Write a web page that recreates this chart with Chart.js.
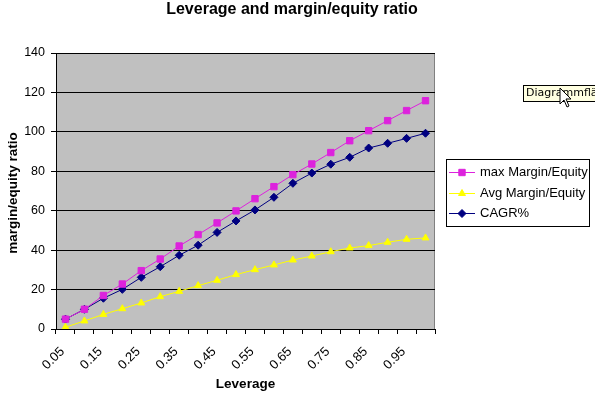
<!DOCTYPE html>
<html>
<head>
<meta charset="utf-8">
<script src="https://cdn.jsdelivr.net/npm/chart.js@4"></script>
<style>
    body { margin: 0; background: #fff; }
    #wrap { position: relative; width: 595px; height: 394px; }
</style>
</head>
<body>
<div id="wrap"><canvas id="chart1"></canvas></div>
<script>
const leverage = ["0.05", "0.10", "0.15", "0.20", "0.25", "0.30", "0.35", "0.40", "0.45", "0.50",
    "0.55", "0.60", "0.65", "0.70", "0.75", "0.80", "0.85", "0.90", "0.95", "1.00"]
const maxMarginEquity = [5, 10, 17, 22.8, 29.6, 35.5, 42.1, 47.9, 53.8, 59.9,
    66.1, 72.2, 78.3, 83.7, 89.5, 95.5, 100.6, 105.7, 110.8, 115.8]
const avgMarginEquity = [0.9, 4.1, 7.4, 10.3, 13.2, 16.4, 19.1, 22, 24.7, 27.6,
    30.1, 32.5, 35, 37, 39.2, 41.1, 42.3, 44, 45.5, 46.2]
const cagr = [5, 10, 15.6, 20.1, 26.2, 31.6, 37.4, 42.5, 49, 54.8,
    60.4, 66.8, 73.9, 79.1, 83.6, 87.1, 91.8, 94.2, 96.7, 99.3]
const yTicks = [0, 20, 40, 60, 80, 100, 120, 140]

const FONT = "Arial, 'Liberation Sans', sans-serif"

// excel-ish plot background, title, y title, legend, tooltip
const decor = {
    id: "decor",
    beforeDraw(chart) {
        const { ctx, chartArea: a } = chart
        ctx.save()
        ctx.fillStyle = "#c0c0c0"
        ctx.fillRect(a.left, a.top, a.right - a.left, a.bottom - a.top)
        ctx.strokeStyle = "#808080"
        ctx.lineWidth = 1
        ctx.strokeRect(a.left + 0.5, a.top + 0.5, a.right - a.left - 1, a.bottom - a.top)
        ctx.restore()
    },
    afterDraw(chart) {
        const ctx = chart.ctx
        ctx.save()
        ctx.fillStyle = "#000"
        ctx.font = "bold 16px " + FONT
        ctx.textAlign = "center"
        ctx.textBaseline = "middle"
        ctx.fillText("Leverage and margin/equity ratio", 292, 10)

        ctx.font = "bold 13.5px " + FONT
        ctx.translate(13, 193)
        ctx.rotate(-Math.PI / 2)
        ctx.fillText("margin/equity ratio", 0, 0)
        ctx.restore()

        // legend
        ctx.save()
        ctx.fillStyle = "#fff"
        ctx.fillRect(446, 159, 143, 67)
        ctx.strokeStyle = "#000"
        ctx.lineWidth = 1
        ctx.strokeRect(446.5, 159.5, 143, 67)
        ctx.font = "13px " + FONT
        ctx.textBaseline = "middle"
        chart.data.datasets.forEach((ds, i) => {
            const y = Math.round(172 + i * 20.5) + 0.5
            ctx.strokeStyle = ds.borderColor
            ctx.beginPath()
            ctx.moveTo(449, y)
            ctx.lineTo(475, y)
            ctx.stroke()
            ctx.fillStyle = ds.pointBackgroundColor
            Chart.helpers.drawPoint(ctx, {
                pointStyle: ds.pointStyle, radius: ds.pointRadius, borderWidth: 1
            }, 462, y)
            ctx.fillStyle = "#000"
            ctx.fillText(ds.label, 480, y)
        })
        ctx.restore()

        // tooltip left over from the screenshot
        ctx.save()
        ctx.fillStyle = "#ffffe1"
        ctx.fillRect(523, 85, 80, 16)
        ctx.strokeStyle = "#000"
        ctx.strokeRect(523.5, 85.5, 80, 16)
        ctx.fillStyle = "#000"
        ctx.font = "11px Tahoma, 'DejaVu Sans', sans-serif"
        ctx.textBaseline = "middle"
        ctx.fillText("Diagrammfläche", 526, 93.5)
        // cursor
        ctx.beginPath()
        ctx.moveTo(560, 88)
        ctx.lineTo(560, 104)
        ctx.lineTo(564, 100)
        ctx.lineTo(567, 107)
        ctx.lineTo(569, 106)
        ctx.lineTo(566, 99)
        ctx.lineTo(571, 99)
        ctx.closePath()
        ctx.fillStyle = "#fff"
        ctx.fill()
        ctx.strokeStyle = "#000"
        ctx.stroke()
        ctx.restore()
    }
}

const ctx = document.getElementById("chart1").getContext("2d")
new Chart(ctx, {
    type: "line",
    data: {
        labels: leverage,
        datasets: [
            {
                label: "max Margin/Equity", data: maxMarginEquity,
                borderColor: "#dd22dd", backgroundColor: "#dd22dd", pointBackgroundColor: "#dd22dd",
                borderWidth: 1, pointStyle: "rect", pointRadius: 4.5, pointBorderWidth: 1
            },
            {
                label: "Avg Margin/Equity", data: avgMarginEquity,
                borderColor: "#ffff00", backgroundColor: "#ffff00", pointBackgroundColor: "#ffff00",
                borderWidth: 1, pointStyle: "triangle", pointRadius: 4, pointBorderWidth: 1
            },
            {
                label: "CAGR%", data: cagr,
                borderColor: "#000080", backgroundColor: "#000080", pointBackgroundColor: "#000080",
                borderWidth: 1, pointStyle: "rectRot", pointRadius: 4, pointBorderWidth: 1
            }
        ]
    },
    options: {
        responsive: true,
        maintainAspectRatio: false,
        animation: false,
        events: [],
        layout: { padding: { left: 0, right: 160, top: 53, bottom: 0 } },
        plugins: {
            legend: { display: false },
            title: { display: false },
            tooltip: { enabled: false }
        },
        scales: {
            x: {
                offset: true,
                afterFit(scale) { scale.height = 65 },
                border: { display: true, color: "#000", width: 1 },
                grid: { display: true, drawOnChartArea: false, drawTicks: true, tickLength: 5, color: "#000", offset: true },
                ticks: {
                    autoSkip: false, minRotation: 45, maxRotation: 45, padding: 10, labelOffset: -3,
                    color: "#000", font: { family: FONT, size: 13 },
                    callback: (v, i) => i % 2 === 0 ? leverage[i] : ""
                },
                title: {
                    display: true, text: "Leverage", color: "#000",
                    font: { family: FONT, size: 13.5, weight: "bold" },
                    padding: { top: 0, bottom: 2 }
                }
            },
            y: {
                min: 0, max: 140,
                afterFit(scale) { scale.width = 56 },
                afterBuildTicks(scale) { scale.ticks = yTicks.map(v => ({ value: v })) },
                border: { display: true, color: "#000", width: 1 },
                grid: { color: "#000", lineWidth: 1, tickLength: 5, drawTicks: true },
                ticks: { color: "#000", padding: 6, font: { family: FONT, size: 12.5 } }
            }
        }
    },
    plugins: [decor]
})
</script>
</body>
</html>
